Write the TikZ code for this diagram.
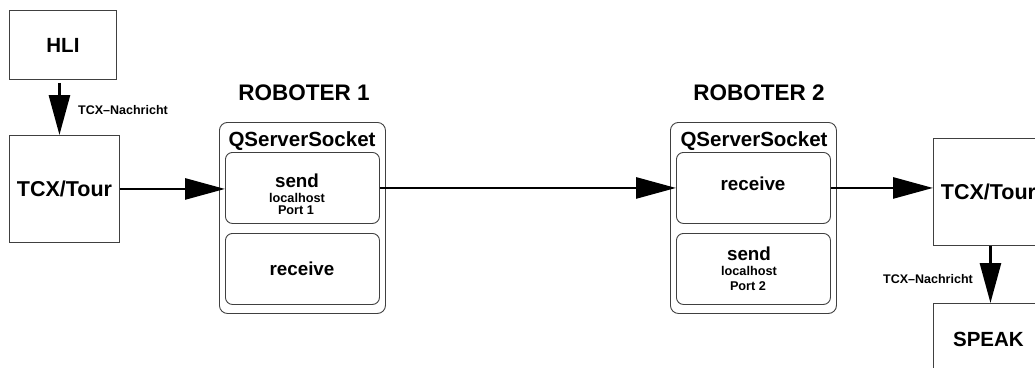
\documentclass[tikz,border=0pt]{standalone}
\usepackage{fontspec}
\setmainfont{Liberation Sans}
\usetikzlibrary{arrows.meta}
\begin{document}
\begin{tikzpicture}[x=1pt,y=-1pt,
  frame/.style={draw=black!75, line width=0.9pt, inner sep=0pt, anchor=north west},
  modbox/.style={frame, font=\fontsize{20.5}{24}\selectfont\bfseries, text height=14.7pt, text depth=0pt},
  widebox/.style={modbox, font=\fontsize{21.5}{25}\selectfont\bfseries, text height=15.4pt},
  sockbox/.style={frame, rounded corners=8pt},
  slot/.style={frame, rounded corners=7pt},
  title/.style={font=\fontsize{22.5}{26}\selectfont\bfseries, inner sep=0pt},
  sockname/.style={font=\fontsize{20.5}{24}\selectfont\bfseries, inner sep=0pt, anchor=base},
  op/.style={font=\fontsize{18.8}{22}\selectfont\bfseries, inner sep=0pt, anchor=base},
  detail/.style={font=\fontsize{12.7}{14}\selectfont\bfseries, inner sep=0pt, anchor=base},
  msg/.style={font=\fontsize{12.5}{14}\selectfont\bfseries, inner sep=0pt, anchor=base west},
  flow/.style={line width=2.8pt, -{Triangle[length=40pt,width=21pt]}}
]
\useasboundingbox (0,0) rectangle (1035,367);

% modules outside the robots
\node[modbox, minimum width=107pt, minimum height=69pt] (hli) at (9,10) {HLI};
\node[widebox, minimum width=110pt, minimum height=107pt] (tcxl) at (9,135) {TCX/Tour};
\node[widebox, minimum width=110pt, minimum height=107pt] (tcxr) at (933,138) {TCX/Tour};
\node[modbox, minimum width=110pt, minimum height=72pt] (speak) at (933,303) {SPEAK};

% robot 1
\node[title] (rob1) at (304,93) {ROBOTER 1};
\node[sockbox, minimum width=166pt, minimum height=191pt] (sock1) at (219,122) {};
\node[sockname] (sock1name) at (302,146) {QServerSocket};
\node[slot, minimum width=154pt, minimum height=71pt] (send1) at (225,152) {};
\node[slot, minimum width=154pt, minimum height=71pt] (recv1) at (225,233) {};
\node[op] (send1a) at (297,187) {send};
\node[detail] (send1b) at (297,202) {localhost};
\node[detail] (send1c) at (296,214) {Port 1};
\node[op] (recv1a) at (302,275) {receive};

% robot 2
\node[title] (rob2) at (759,93) {ROBOTER 2};
\node[sockbox, minimum width=166pt, minimum height=191pt] (sock2) at (670,122) {};
\node[sockname] (sock2name) at (754,146) {QServerSocket};
\node[slot, minimum width=154pt, minimum height=71pt] (recv2) at (676,152) {};
\node[slot, minimum width=154pt, minimum height=71pt] (send2) at (676,233) {};
\node[op] (recv2a) at (753,190) {receive};
\node[op] (send2a) at (749,260) {send};
\node[detail] (send2b) at (749,275) {localhost};
\node[detail] (send2c) at (748,290) {Port 2};

% message labels
\node[msg] (msg1) at (78,114) {TCX–Nachricht};
\node[msg] (msg2) at (883,283) {TCX–Nachricht};

% data flow
\draw[flow, shorten <=3pt] ([xshift=-3.5pt]hli.south) -- ([xshift=-3.5pt]hli.south |- tcxl.north);
\draw[flow] (tcxl.east) -- (tcxl.east -| send1.west);
\draw[flow] (send1.east) -- (recv2.west);
\draw[flow] (recv2.east) -- (recv2.east -| tcxr.west);
\draw[flow] ([xshift=2pt]tcxr.south) -- ([xshift=2pt]speak.north);
\end{tikzpicture}
\end{document}
